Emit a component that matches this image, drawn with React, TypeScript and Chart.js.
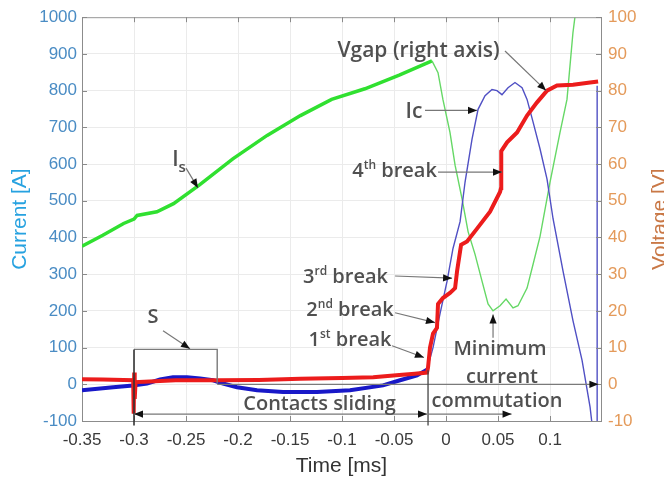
import { useEffect, useRef } from "react";
import { Chart, registerables } from "chart.js";

Chart.register(...registerables);

// ---- tick labels ----
const timeTicks = [-0.35, -0.3, -0.25, -0.2, -0.15, -0.1, -0.05, 0, 0.05, 0.1];
const currentTicks = [-100, 0, 100, 200, 300, 400, 500, 600, 700, 800, 900, 1000];
const voltageTicks = [-10, 0, 10, 20, 30, 40, 50, 60, 70, 80, 90, 100];

// ---- Is (green, left axis, A) ----
const isTime = [-0.35, -0.33, -0.31, -0.3, -0.297, -0.278, -0.262, -0.237, -0.205, -0.172, -0.14, -0.11, -0.078, -0.045, -0.0135, -0.0077, -0.003, 0.0038, 0.0087, 0.0154, 0.0212, 0.0279, 0.0346, 0.0404, 0.0452, 0.0519, 0.0577, 0.0644, 0.0692, 0.0779, 0.0837, 0.0904, 0.1, 0.1096, 0.1163, 0.122, 0.125];
const isValue = [376, 406, 438, 450, 460, 470, 492, 543, 614, 678, 732, 776, 805, 842, 881, 849, 776, 686, 597, 505, 416, 354, 281, 219, 200, 214, 232, 208, 214, 262, 327, 403, 551, 686, 776, 957, 1024];

// ---- Ic (blue, left axis, A) ----
const icTime = [-0.35, -0.32, -0.301, -0.2875, -0.275, -0.2625, -0.249, -0.2365, -0.224, -0.2144, -0.201, -0.1817, -0.1567, -0.124, -0.0923, -0.0606, -0.0442, -0.0279, -0.0183, -0.0125, -0.0058, 0.001, 0.0067, 0.0135, 0.0183, 0.025, 0.0308, 0.0375, 0.0442, 0.049, 0.0538, 0.0596, 0.0663, 0.0731, 0.0779, 0.0837, 0.0904, 0.0971, 0.1029, 0.1125, 0.1221, 0.1308, 0.1385, 0.1433, 0.1452, 0.1453];
const icValue = [-16, -8, -3, 2, 13, 19, 19, 16, 11, 2, -8, -16, -21, -21, -16, -3, 11, 24, 40, 100, 192, 281, 370, 443, 551, 668, 749, 786, 803, 800, 789, 808, 822, 808, 776, 714, 641, 559, 451, 308, 173, 65, -62, -180, -180, 813];

// ---- Vgap (red, right axis, V) ----
const vgTime = [-0.35, -0.33, -0.31, -0.3008, -0.3003, -0.2998, -0.2993, -0.2985, -0.29, -0.26, -0.22, -0.18, -0.14, -0.1, -0.07, -0.045, -0.03, -0.0183, -0.0173, -0.0154, -0.0125, -0.0087, -0.0077, -0.003, 0.0038, 0.0087, 0.0106, 0.0135, 0.0145, 0.0202, 0.0298, 0.0423, 0.0519, 0.0529, 0.0531, 0.0587, 0.0683, 0.0779, 0.0875, 0.0971, 0.1067, 0.1221, 0.1385, 0.1462];
const vgValue = [1.4, 1.3, 1.2, 1.1, -8, 3.2, -4, 0.6, 0.7, 1.1, 1.1, 1.2, 1.5, 1.7, 1.9, 2.5, 2.9, 3.2, 4.6, 10, 13.8, 15.4, 21.9, 23.5, 24.9, 26.2, 30.8, 36.2, 38, 38.9, 42.4, 47, 52.4, 53.5, 63.5, 65.9, 68.6, 73.2, 76.8, 80, 81.4, 81.6, 82.2, 82.5];

const isPeakTime = -0.0135;
const icRiseTime = -0.0183;

// ---- annotations (data coordinates: time, current A) ----
type Part = { s: string; k?: "sup" | "sub" };
const annotationTexts: { parts: Part[]; t: number; a: number; size: number }[] = [
  { parts: [{ s: "Vgap (right axis)" }], t: -0.0264, a: 911, size: 21 },
  { parts: [{ s: "Ic" }], t: -0.0308, a: 746, size: 21 },
  { parts: [{ s: "4" }, { s: "th", k: "sup" }, { s: " break" }], t: -0.0495, a: 584, size: 20 },
  { parts: [{ s: "I" }, { s: "s", k: "sub" }], t: -0.2567, a: 616, size: 21 },
  { parts: [{ s: "3" }, { s: "rd", k: "sup" }, { s: " break" }], t: -0.0966, a: 295, size: 20 },
  { parts: [{ s: "2" }, { s: "nd", k: "sup" }, { s: " break" }], t: -0.0923, a: 205, size: 20 },
  { parts: [{ s: "1" }, { s: "st", k: "sup" }, { s: " break" }], t: -0.0923, a: 124, size: 20 },
  { parts: [{ s: "S" }], t: -0.2817, a: 186, size: 20 },
  { parts: [{ s: "Minimum" }], t: 0.0519, a: 100, size: 20 },
  { parts: [{ s: "current" }], t: 0.0538, a: 24, size: 20 },
  { parts: [{ s: "Contacts sliding" }], t: -0.1216, a: -51, size: 20 },
  { parts: [{ s: "commutation" }], t: 0.049, a: -43, size: 20 },
];

const guideLines: { pts: [number, number][]; color: string; width: number }[] = [
  { pts: [[-0.3, 95], [-0.22, 95], [-0.22, 2]], color: "#7a7a7a", width: 1.4 },
  { pts: [[-0.22, 0], [0.1462, 0]], color: "#7a7a7a", width: 1.2 },
  { pts: [[-0.3, 95], [-0.3, -112]], color: "#333333", width: 1.6 },
  { pts: [[-0.0173, 38], [-0.0173, -112]], color: "#444444", width: 1.3 },
];

const arrows: { from: [number, number]; to: [number, number]; both?: boolean }[] = [
  { from: [-0.25, 589], to: [-0.2385, 535] },
  { from: [-0.2721, 146], to: [-0.2462, 97] },
  { from: [0.0567, 908], to: [0.0962, 800] },
  { from: [-0.0202, 746], to: [0.0298, 746] },
  { from: [-0.0077, 578], to: [0.0538, 578] },
  { from: [-0.049, 295], to: [0.0058, 289] },
  { from: [-0.049, 195], to: [-0.0106, 168] },
  { from: [-0.0519, 105], to: [-0.0212, 73] },
  { from: [0.0452, 127], to: [0.0452, 190] },
  { from: [-0.3, -81], to: [-0.0183, -81], both: true },
  { from: [-0.0173, -81], to: [0.063, -81] },
  { from: [0.14, 0], to: [0.1465, 0] },
];

const FONT = "'Open Sans', 'Noto Sans', sans-serif";
const AXFONT = "'Liberation Sans', Arial, sans-serif";

function drawHead(ctx: CanvasRenderingContext2D, x0: number, y0: number, x1: number, y1: number) {
  const ang = Math.atan2(y1 - y0, x1 - x0);
  const len = 9;
  const hw = 3.6;
  ctx.save();
  ctx.translate(x1, y1);
  ctx.rotate(ang);
  ctx.fillStyle = "#111111";
  ctx.beginPath();
  ctx.moveTo(0, 0);
  ctx.lineTo(-len, -hw);
  ctx.lineTo(-len, hw);
  ctx.closePath();
  ctx.fill();
  ctx.restore();
}

const annotationPlugin = {
  id: "annotations",
  afterDraw(chart: any) {
    const { ctx, chartArea } = chart;
    const xs = chart.scales.x;
    const ys = chart.scales.y;
    const y2 = chart.scales.y2;
    const px = (t: number) => xs.getPixelForValue(t);
    const py = (a: number) => ys.getPixelForValue(a);
    ctx.save();

    // top border of the box
    ctx.strokeStyle = "#9a9a9a";
    ctx.lineWidth = 1;
    ctx.beginPath();
    ctx.moveTo(chartArea.left, chartArea.top + 0.5);
    ctx.lineTo(chartArea.right, chartArea.top + 0.5);
    ctx.stroke();

    // inner tick marks (MATLAB style)
    ctx.strokeStyle = "#8a8a8a";
    ctx.lineWidth = 1;
    ctx.beginPath();
    for (const t of timeTicks) {
      const x = Math.round(px(t)) + 0.5;
      ctx.moveTo(x, chartArea.bottom);
      ctx.lineTo(x, chartArea.bottom - 5);
      ctx.moveTo(x, chartArea.top);
      ctx.lineTo(x, chartArea.top + 5);
    }
    for (const a of currentTicks) {
      const y = Math.round(py(a)) + 0.5;
      ctx.moveTo(chartArea.left, y);
      ctx.lineTo(chartArea.left + 5, y);
    }
    for (const v of voltageTicks) {
      const y = Math.round(y2.getPixelForValue(v)) + 0.5;
      ctx.moveTo(chartArea.right, y);
      ctx.lineTo(chartArea.right - 5, y);
    }
    ctx.stroke();

    // guide lines
    for (const l of guideLines) {
      ctx.strokeStyle = l.color;
      ctx.lineWidth = l.width;
      ctx.beginPath();
      l.pts.forEach(([t, a], i) => {
        if (i === 0) ctx.moveTo(px(t), py(a));
        else ctx.lineTo(px(t), py(a));
      });
      ctx.stroke();
    }

    // arrows
    for (const ar of arrows) {
      const x0 = px(ar.from[0]);
      const y0 = py(ar.from[1]);
      const x1 = px(ar.to[0]);
      const y1 = py(ar.to[1]);
      ctx.strokeStyle = "#777777";
      ctx.lineWidth = 1.2;
      ctx.beginPath();
      ctx.moveTo(x0, y0);
      ctx.lineTo(x1, y1);
      ctx.stroke();
      drawHead(ctx, x0, y0, x1, y1);
      if (ar.both) drawHead(ctx, x1, y1, x0, y0);
    }

    // texts
    ctx.fillStyle = "#505050";
    ctx.textBaseline = "alphabetic";
    ctx.textAlign = "left";
    for (const lab of annotationTexts) {
      const base = lab.size;
      const fontFor = (k?: string) => {
        const sz = k === "sup" ? base * 0.6 : k === "sub" ? base * 0.72 : base;
        return `600 ${sz}px ${FONT}`;
      };
      let total = 0;
      for (const p of lab.parts) {
        ctx.font = fontFor(p.k);
        total += ctx.measureText(p.s).width;
      }
      let x = px(lab.t) - total / 2;
      const baseY = py(lab.a) + base * 0.36;
      for (const p of lab.parts) {
        ctx.font = fontFor(p.k);
        const dy = p.k === "sup" ? -base * 0.42 : p.k === "sub" ? base * 0.28 : 0;
        ctx.fillText(p.s, x, baseY + dy);
        x += ctx.measureText(p.s).width;
      }
    }

    // right axis title (reads bottom to top)
    ctx.save();
    ctx.translate(660, (chartArea.top + chartArea.bottom) / 2);
    ctx.rotate(-Math.PI / 2);
    ctx.font = `21px ${AXFONT}`;
    ctx.fillStyle = "#c97846";
    ctx.textAlign = "center";
    ctx.textBaseline = "middle";
    ctx.fillText("Voltage [V]", 0, 0);
    ctx.restore();

    ctx.restore();
  },
};

const fmt = (v: number) => {
  const r = Math.round(v * 1000) / 1000;
  return String(r);
};

export default function App() {
  const ref = useRef<HTMLCanvasElement | null>(null);

  useEffect(() => {
    document.body.style.margin = "0";
    const canvas = ref.current;
    if (!canvas) return;

    const chart = new Chart(canvas, {
      type: "line",
      data: {
        datasets: [
          {
            label: "Vgap",
            data: vgTime.map((t, i) => ({ x: t, y: vgValue[i] })),
            yAxisID: "y2",
            borderColor: "#ec1c1c",
            borderWidth: 4,
            pointRadius: 0,
            tension: 0,
            order: 0,
          },
          {
            label: "Ic",
            data: icTime.map((t, i) => ({ x: t, y: icValue[i] })),
            yAxisID: "y",
            borderColor: "#1818c8",
            borderWidth: 4,
            pointRadius: 0,
            tension: 0,
            order: 1,
            segment: {
              borderWidth: (c: any) => (c.p0.parsed.x >= icRiseTime ? 1.4 : 4),
              borderColor: (c: any) => (c.p0.parsed.x >= icRiseTime ? "#5050c4" : "#1818c8"),
            },
          },
          {
            label: "Is",
            data: isTime.map((t, i) => ({ x: t, y: isValue[i] })),
            yAxisID: "y",
            borderColor: "#30e030",
            borderWidth: 3.5,
            pointRadius: 0,
            tension: 0,
            order: 2,
            segment: {
              borderWidth: (c: any) => (c.p0.parsed.x >= isPeakTime ? 1.4 : 3.5),
              borderColor: (c: any) => (c.p0.parsed.x >= isPeakTime ? "#66d866" : "#30e030"),
            },
          },
        ],
      },
      options: {
        animation: false,
        responsive: false,
        devicePixelRatio: 1,
        layout: { padding: { top: 14, left: 0, right: 0, bottom: 0 } },
        plugins: { legend: { display: false }, tooltip: { enabled: false } },
        scales: {
          x: {
            type: "linear",
            min: -0.35,
            max: 0.149,
            afterBuildTicks: (s: any) => {
              s.ticks = timeTicks.map((value) => ({ value }));
            },
            afterFit: (s: any) => {
              s.height = 56;
            },
            ticks: {
              callback: (v: any) => fmt(Number(v)),
              font: { family: AXFONT, size: 17 },
              color: "#3a3a3a",
              padding: 9,
              maxRotation: 0,
              autoSkip: false,
            },
            grid: { color: "#ebebeb", drawTicks: false },
            border: { color: "#8c8c8c" },
            title: {
              display: true,
              text: "Time [ms]",
              font: { family: AXFONT, size: 21, lineHeight: 1 },
              color: "#333333",
              padding: { top: 0, bottom: 0 },
            },
          },
          y: {
            type: "linear",
            position: "left",
            min: -100,
            max: 1000,
            afterBuildTicks: (s: any) => {
              s.ticks = currentTicks.map((value) => ({ value }));
            },
            afterFit: (s: any) => {
              s.width = 82;
            },
            ticks: {
              callback: (v: any) => fmt(Number(v)),
              font: { family: AXFONT, size: 17 },
              color: "#4a8cc4",
              padding: 5,
            },
            grid: { color: "#ebebeb", drawTicks: false },
            border: { color: "#8c8c8c" },
            title: {
              display: true,
              text: "Current [A]",
              font: { family: AXFONT, size: 21, lineHeight: 1 },
              color: "#27a2e0",
              padding: { top: 10, bottom: 0 },
            },
          },
          y2: {
            type: "linear",
            position: "right",
            min: -10,
            max: 100,
            afterBuildTicks: (s: any) => {
              s.ticks = voltageTicks.map((value) => ({ value }));
            },
            afterFit: (s: any) => {
              s.width = 63;
            },
            ticks: {
              callback: (v: any) => fmt(Number(v)),
              font: { family: AXFONT, size: 17 },
              color: "#e49a5a",
              padding: 7,
            },
            grid: { drawOnChartArea: false, drawTicks: false },
            border: { color: "#8c8c8c" },
          },
        },
      },
      plugins: [annotationPlugin],
    } as any);

    return () => chart.destroy();
  }, []);

  return (
    <div style={{ width: 664, height: 477, position: "relative" }}>
      <canvas ref={ref} width={664} height={477} style={{ display: "block" }} />
    </div>
  );
}
